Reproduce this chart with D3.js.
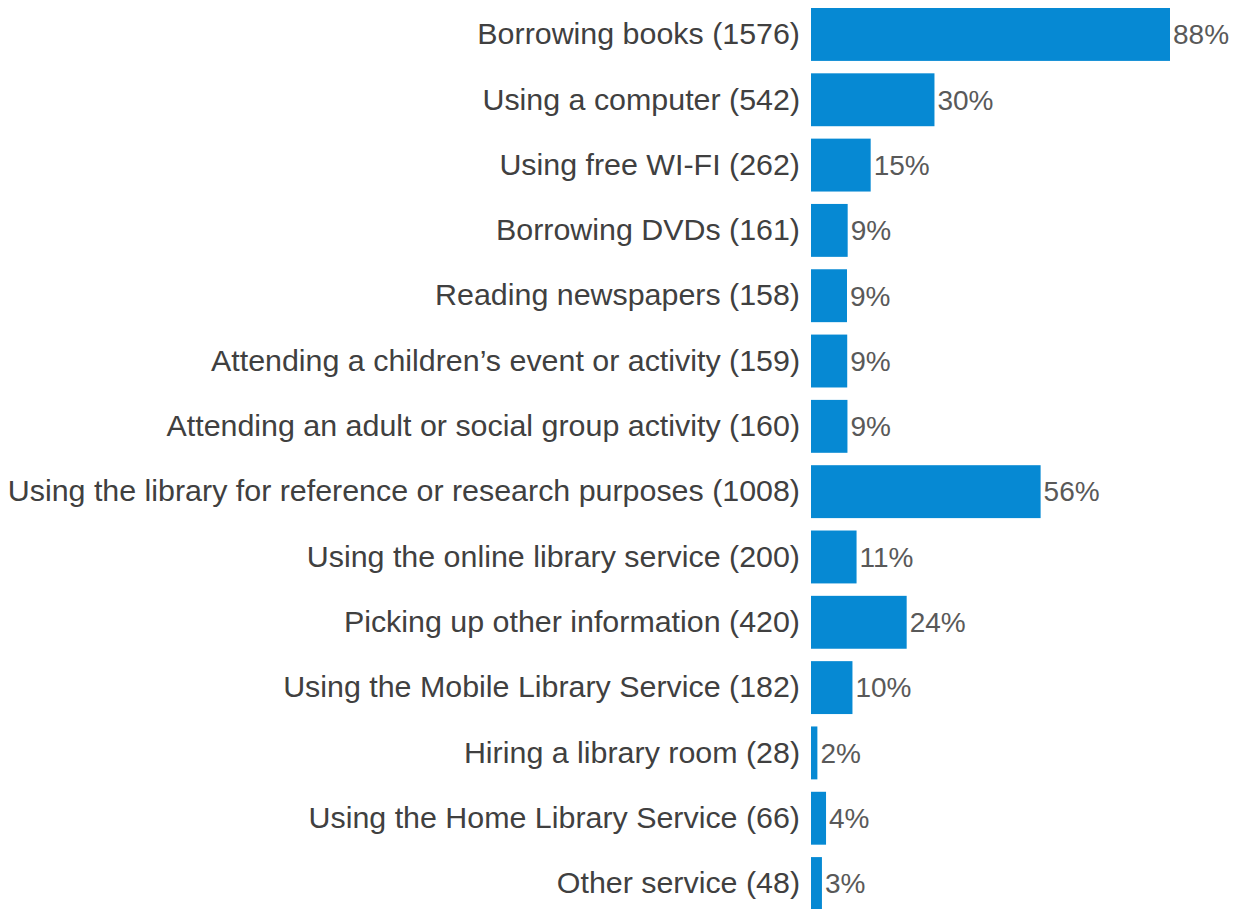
<html>
<head>
    <style>
        body {
            margin: 0;
            background-color: white;
            font-family: "Liberation Sans", Arial, sans-serif;
        }
    </style>
    <script src="https://cdn.jsdelivr.net/npm/d3@7"></script>
</head>
<body>
    <svg id="Chart"></svg>
    <script>
    // values
    let services = [
        "Borrowing books",
        "Using a computer",
        "Using free WI-FI",
        "Borrowing DVDs",
        "Reading newspapers",
        "Attending a children\u2019s event or activity",
        "Attending an adult or social group activity",
        "Using the library for reference or research purposes",
        "Using the online library service",
        "Picking up other information",
        "Using the Mobile Library Service",
        "Hiring a library room",
        "Using the Home Library Service",
        "Other service"
    ]
    let counts = [1576, 542, 262, 161, 158, 159, 160, 1008, 200, 420, 182, 28, 66, 48]
    let percents = [88, 30, 15, 9, 9, 9, 9, 56, 11, 24, 10, 2, 4, 3]

    let rows = services.map((s, i) => ({
        name: s + " (" + counts[i] + ")",
        count: counts[i],
        pct: percents[i]
    }))

    function getConfig() {
        let width = 1237
        let height = 909
        let margin = { top: 8, bottom: -1, left: 811, right: 68 }
        let bodyHeight = height - margin.top - margin.bottom
        let bodyWidth = width - margin.left - margin.right
        let container = d3.select("#Chart")
            .attr("width", width)
            .attr("height", height)
        return { width, height, margin, bodyHeight, bodyWidth, container }
    }

    function getScales(data, config) {
        let { bodyWidth, bodyHeight } = config
        let xScale = d3.scaleLinear()
            .range([0, 359])
            .domain([0, d3.max(data, d => d.count)])
        let yScale = d3.scaleBand()
            .range([0, bodyHeight])
            .domain(data.map(d => d.name))
            .paddingInner(0.19)
            .paddingOuter(0)
        return { xScale, yScale }
    }

    function drawChart(data) {
        let config = getConfig()
        let { xScale, yScale } = getScales(data, config)
        let { margin, container } = config

        let body = container.append("g")
            .attr("transform", `translate(${margin.left},${margin.top})`)

        body.selectAll(".bar").data(data)
            .enter().append("rect")
            .attr("class", "bar")
            .attr("x", 0)
            .attr("y", d => yScale(d.name))
            .attr("height", yScale.bandwidth())
            .attr("width", d => xScale(d.count))
            .attr("fill", "#0689D3")

        // percentage labels right of each bar
        body.selectAll(".pct").data(data)
            .enter().append("text")
            .attr("class", "pct")
            .attr("x", d => xScale(d.count) + 3)
            .attr("y", d => yScale(d.name) + yScale.bandwidth() / 2)
            .attr("dy", "0.35em")
            .attr("fill", "#595959")
            .style("font-size", "28px")
            .text(d => d.pct + "%")

        // category axis on the left, no line or ticks
        let axisY = d3.axisLeft(yScale).tickSize(0).tickPadding(11)
        let ax = container.append("g")
            .attr("transform", `translate(${margin.left},${margin.top})`)
            .call(axisY)
        ax.select(".domain").remove()
        ax.selectAll("text")
            .attr("fill", "#404040")
            .style("font-family", "'Liberation Sans', Arial, sans-serif")
            .style("font-size", "30.4px")
    }

    drawChart(rows)
    </script>
</body>
</html>
